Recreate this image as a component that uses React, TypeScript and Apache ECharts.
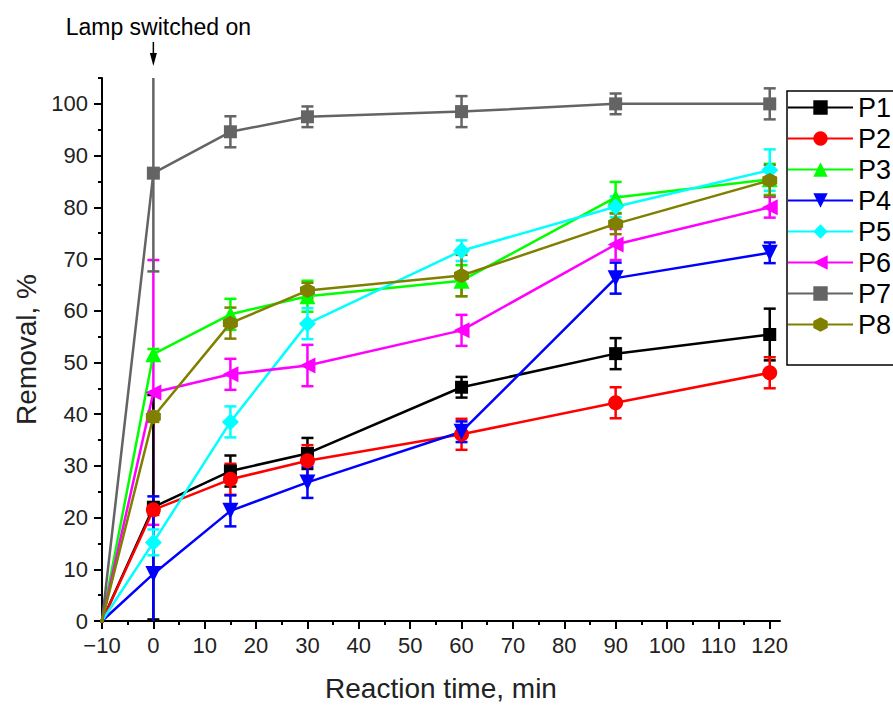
import React, { useEffect, useRef } from "react";
import * as echarts from "echarts";

const times = [-10, 0, 15, 30, 60, 90, 120];
const seriesNames = ["P1", "P2", "P3", "P4", "P5", "P6", "P7", "P8"];

const p1Values = [0, 22.0, 29.0, 32.4, 45.2, 51.7, 55.4];
const p1Errors = [0, 21.7, 3, 3, 2, 3, 5];
const p2Values = [0, 21.5, 27.4, 31.0, 36.1, 42.2, 48.0];
const p2Errors = [0, 1, 3, 3, 3, 3, 3];
const p3Values = [0, 51.6, 59.3, 62.8, 65.8, 81.9, 85.4];
const p3Errors = [0, 1, 3, 3, 3, 3, 3];
const p4Values = [0, 9.1, 21.3, 26.8, 36.6, 66.3, 71.2];
const p4Errors = [0, 15, 3, 3, 2, 3, 2];
const p5Values = [0, 15.2, 38.5, 57.5, 71.6, 80.1, 87.2];
const p5Errors = [0, 2.5, 3, 3, 2, 2, 4];
const p6Values = [0, 44.2, 47.7, 49.4, 56.2, 72.8, 80.0];
const p6Errors = [0, 25.6, 3, 4, 3, 3, 2];
const p7Values = [0, 86.6, 94.6, 97.5, 98.5, 100, 100];
const p7Errors = [0, 19, 3, 2, 3, 2, 3];
const p8Values = [0, 39.5, 57.6, 63.9, 66.8, 76.8, 85.2];
const p8Errors = [0, 1, 3, 1.5, 4, 2, 3];

const xMajorTicks = [-10, 0, 10, 20, 30, 40, 50, 60, 70, 80, 90, 100, 110, 120];
const xMinorTicks = [-5, 5, 15, 25, 35, 45, 55, 65, 75, 85, 95, 105, 115];
const yMajorTicks = [0, 10, 20, 30, 40, 50, 60, 70, 80, 90, 100];
const yMinorTicks = [5, 15, 25, 35, 45, 55, 65, 75, 85, 95, 105];

const allValues = [p1Values, p2Values, p3Values, p4Values, p5Values, p6Values, p7Values, p8Values];
const allErrors = [p1Errors, p2Errors, p3Errors, p4Errors, p5Errors, p6Errors, p7Errors, p8Errors];
const colors = ["#000000", "#ff0000", "#00ff00", "#0000ff", "#00ffff", "#ff00ff", "#646464", "#808000"];
const symbols = [
  "rect",
  "circle",
  "triangle",
  "path://M0,0 L10,0 L5,10 Z",
  "diamond",
  "path://M0,5 L10,0 L10,10 Z",
  "rect",
  "path://M5,0 L10,2.6 L10,7.4 L5,10 L0,7.4 L0,2.6 Z",
];
const symbolSizes = [13, 15, 16, 16, 17, 16, 13, 15];

const FONT = "Liberation Sans, Arial, sans-serif";

export default function App() {
  const ref = useRef<HTMLDivElement>(null);
  useEffect(() => {
    const chart = echarts.init(ref.current!, null, { renderer: "svg" });
    const series: any[] = [];
    seriesNames.forEach((name, k) => {
      const color = colors[k];
      series.push({
        name: name + " error",
        type: "custom",
        clip: true,
        xAxisIndex: 0,
        yAxisIndex: 0,
        z: k === 5 ? 1 : 2,
        encode: { x: 0, y: 1 },
        data: times.map((t, i) => [t, allValues[k][i], allErrors[k][i]]).filter((d) => d[2] > 0),
        renderItem: (params: any, api: any) => {
          const x = api.value(0);
          const y = api.value(1);
          const e = api.value(2);
          const hi = api.coord([x, y + e]);
          const lo = api.coord([x, y - e]);
          const half = 6;
          const st = { stroke: color, lineWidth: 2.5 };
          return {
            type: "group",
            children: [
              { type: "line", shape: { x1: hi[0], y1: hi[1], x2: lo[0], y2: lo[1] }, style: st },
              { type: "line", shape: { x1: hi[0] - half, y1: hi[1], x2: hi[0] + half, y2: hi[1] }, style: st },
              { type: "line", shape: { x1: lo[0] - half, y1: lo[1], x2: lo[0] + half, y2: lo[1] }, style: st },
            ],
          };
        },
      });
      series.push({
        name,
        type: "line",
        xAxisIndex: 0,
        yAxisIndex: 0,
        z: 3,
        symbol: symbols[k],
        symbolSize: symbolSizes[k],
        showAllSymbol: true,
        itemStyle: { color, opacity: 1 },
        lineStyle: { color, width: 2.5 },
        data: times.map((t, i) =>
          i === 0 ? { value: [t, allValues[k][i]], symbolSize: 4 } : [t, allValues[k][i]]
        ),
      });
    });

    const axisCommon = {
      splitLine: { show: false },
    };

    chart.setOption({
      animation: false,
      backgroundColor: "#ffffff",
      textStyle: { fontFamily: FONT },
      grid: { left: 102, top: 78, right: 113, bottom: 85, containLabel: false },
      legend: {
        data: seriesNames,
        orient: "vertical",
        left: 787,
        top: 94,
        padding: 0,
        itemWidth: 65,
        itemHeight: 18,
        itemGap: 4.0,
        textStyle: { fontSize: 27, color: "#000", fontFamily: FONT, padding: [0, 0, 0, 0] },
        selectedMode: false,
      },
      xAxis: [
        {
          ...axisCommon,
          type: "value",
          min: -10,
          max: 122,
          interval: 10,
          position: "bottom",
          axisLine: { show: true, onZero: false, lineStyle: { color: "#000", width: 2 } },
          axisTick: { show: true, customValues: xMajorTicks, length: 8, lineStyle: { color: "#000", width: 2 } },
          axisLabel: {
            customValues: xMajorTicks,
            fontSize: 22,
            color: "#222",
            margin: 13,
            fontFamily: FONT,
            formatter: (v: number) => (v < 0 ? "\u2212" + Math.abs(v) : String(v)),
          },
          name: "Reaction time, min",
          nameLocation: "middle",
          nameGap: 53,
          nameTextStyle: { fontSize: 28, color: "#222", fontFamily: FONT },
        },
        {
          ...axisCommon,
          type: "value",
          min: -10,
          max: 122,
          interval: 10,
          position: "bottom",
          axisLine: { show: false, onZero: false },
          axisTick: { show: true, customValues: xMinorTicks, length: 4, lineStyle: { color: "#000", width: 2 } },
          axisLabel: { show: false },
        },
      ],
      yAxis: [
        {
          ...axisCommon,
          type: "value",
          min: 0,
          max: 105,
          interval: 10,
          position: "left",
          axisLine: { show: true, onZero: false, lineStyle: { color: "#000", width: 2 } },
          axisTick: { show: true, customValues: yMajorTicks, length: 8, lineStyle: { color: "#000", width: 2 } },
          axisLabel: { customValues: yMajorTicks, fontSize: 22, color: "#222", margin: 14, fontFamily: FONT },
          name: "Removal, %",
          nameLocation: "middle",
          nameGap: 62,
          nameRotate: 90,
          nameTextStyle: { fontSize: 28, color: "#222", fontFamily: FONT },
        },
        {
          ...axisCommon,
          type: "value",
          min: 0,
          max: 105,
          interval: 10,
          position: "left",
          axisLine: { show: false, onZero: false },
          axisTick: { show: true, customValues: yMinorTicks, length: 4, lineStyle: { color: "#000", width: 2 } },
          axisLabel: { show: false },
        },
      ],
      series,
    });

    const x0 = chart.convertToPixel({ xAxisIndex: 0 }, 0) as number;
    chart.setOption({
      graphic: [
        {
          type: "rect",
          shape: { x: 787, y: 91, width: 200, height: 274 },
          style: { fill: "none", stroke: "#000", lineWidth: 1.5 },
          z: 1,
        },
        {
          type: "text",
          x: x0 + 5,
          y: 27,
          style: {
            text: "Lamp switched on",
            fontSize: 23,
            fontFamily: FONT,
            fill: "#000",
            textAlign: "center",
            textVerticalAlign: "middle",
          },
        },
        {
          type: "line",
          shape: { x1: x0, y1: 42, x2: x0, y2: 56 },
          style: { stroke: "#000", lineWidth: 1.5 },
        },
        {
          type: "polygon",
          shape: { points: [[x0 - 3.5, 53], [x0 + 3.5, 53], [x0, 66]] },
          style: { fill: "#000" },
        },
      ],
    });

    return () => chart.dispose();
  }, []);
  return <div ref={ref} style={{ position: "fixed", left: 0, top: 0, width: 893, height: 707 }} />;
}
